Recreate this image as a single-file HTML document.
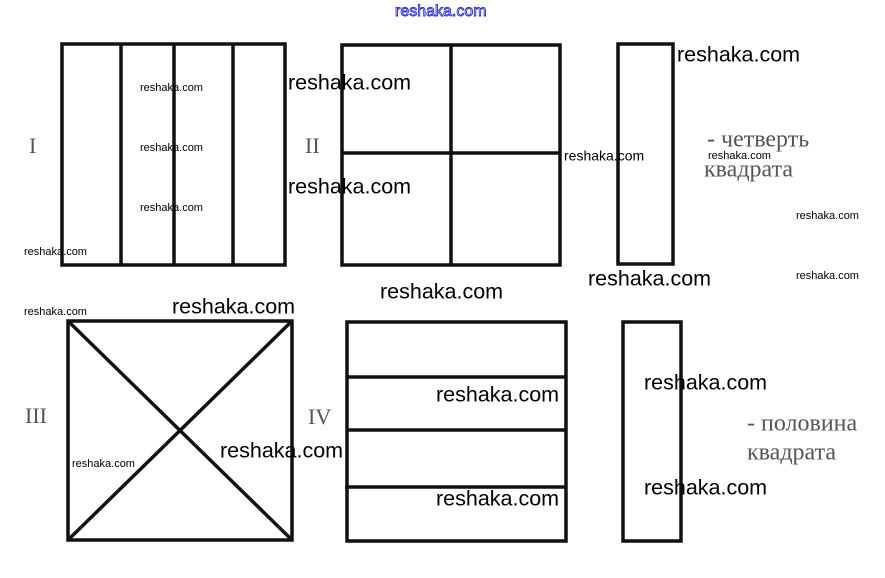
<!DOCTYPE html>
<html><head><meta charset="utf-8"><style>
html,body{margin:0;padding:0;background:#fff;width:885px;height:578px;overflow:hidden}
svg{display:block}
.l{font-family:"Liberation Sans",sans-serif;font-size:21.5px;fill:#000;dominant-baseline:middle}
.s{font-family:"Liberation Sans",sans-serif;font-size:11px;fill:#000;dominant-baseline:middle}
.m{font-family:"Liberation Sans",sans-serif;font-size:14px;fill:#000;dominant-baseline:middle}
.r{font-family:"Liberation Serif",serif;font-size:22px;fill:#555;dominant-baseline:middle}
.rr{font-family:"Liberation Serif",serif;font-size:24px;fill:#555;dominant-baseline:middle}
</style></head><body>
<svg width="885" height="578" viewBox="0 0 885 578">
<g stroke="#111" stroke-width="3.5" fill="none">
<rect x="62" y="44" width="223" height="221"/>
<line x1="121" y1="44" x2="121" y2="265"/>
<line x1="174" y1="44" x2="174" y2="265"/>
<line x1="233" y1="44" x2="233" y2="265"/>
<rect x="342" y="45" width="218" height="220"/>
<line x1="451" y1="45" x2="451" y2="265"/>
<line x1="342" y1="153" x2="560" y2="153"/>
<rect x="618" y="44" width="55" height="220"/>
<rect x="68" y="321" width="224" height="219"/>
<line x1="68" y1="321" x2="292" y2="540"/>
<line x1="292" y1="321" x2="68" y2="540"/>
<rect x="347" y="322" width="219" height="219"/>
<line x1="347" y1="377" x2="566" y2="377"/>
<line x1="347" y1="430" x2="566" y2="430"/>
<line x1="345" y1="487" x2="566" y2="487"/>
<rect x="623" y="322" width="58" height="219"/>
</g>
<text x="395" y="12" font-family="Liberation Sans,sans-serif" font-size="16" fill="#fff" stroke="#2a2ad0" stroke-width="0.9" dominant-baseline="middle">reshaka.com</text>
<text class="r" x="29" y="148">I</text>
<text class="r" x="305" y="148">II</text>
<text class="r" x="25" y="418">III</text>
<text class="r" x="308" y="419">IV</text>
<text class="rr" x="707" y="141">- четверть</text>
<text class="rr" x="704" y="171">квадрата</text>
<text class="rr" x="747" y="425">- половина</text>
<text class="rr" x="747" y="454">квадрата</text>
<text class="s" x="140" y="88">reshaka.com</text>
<text class="s" x="140" y="148">reshaka.com</text>
<text class="s" x="140" y="208">reshaka.com</text>
<text class="s" x="24" y="252">reshaka.com</text>
<text class="s" x="24" y="312">reshaka.com</text>
<text class="s" x="708" y="156">reshaka.com</text>
<text class="s" x="796" y="216">reshaka.com</text>
<text class="s" x="796" y="276">reshaka.com</text>
<text class="s" x="72" y="464">reshaka.com</text>
<text class="m" x="564" y="157">reshaka.com</text>
<text class="l" x="677" y="56">reshaka.com</text>
<text class="l" x="288" y="84">reshaka.com</text>
<text class="l" x="288" y="188">reshaka.com</text>
<text class="l" x="588" y="280">reshaka.com</text>
<text class="l" x="380" y="293">reshaka.com</text>
<text class="l" x="172" y="308">reshaka.com</text>
<text class="l" x="436" y="396">reshaka.com</text>
<text class="l" x="644" y="384">reshaka.com</text>
<text class="l" x="220" y="452">reshaka.com</text>
<text class="l" x="436" y="500">reshaka.com</text>
<text class="l" x="644" y="489">reshaka.com</text>
</svg>
</body></html>
